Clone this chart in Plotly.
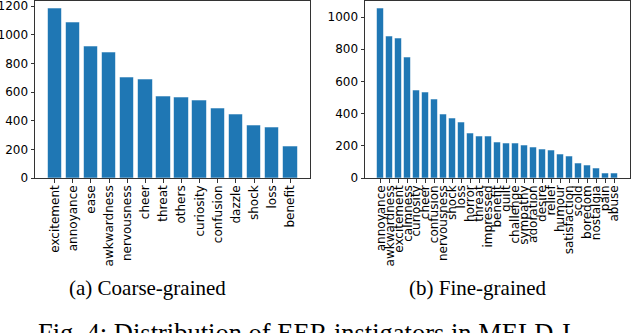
import plotly.graph_objects as go

# coarse-grained instigators
coarse_labels = ['excitement', 'annoyance', 'ease', 'awkwardness', 'nervousness', 'cheer',
                 'threat', 'others', 'curiosity', 'confusion', 'dazzle', 'shock', 'loss', 'benefit']
coarse_counts = [1180, 1084, 921, 877, 703, 686, 572, 563, 544, 484, 444, 368, 351, 218]

# fine-grained instigators
fine_labels = ['annoyance', 'awkwardness', 'excitement', 'calmness', 'curiosity', 'cheer',
               'confusion', 'nervousness', 'shock', 'loss', 'horror', 'threat', 'impressed',
               'benefit', 'guilt', 'challenge', 'sympathy', 'adoration', 'desire', 'relief',
               'humour', 'satisfaction', 'scold', 'boredom', 'nostalgia', 'pain', 'abuse']
fine_counts = [1050, 877, 865, 751, 544, 531, 485, 394, 370, 347, 276, 259, 255,
               218, 212, 212, 205, 187, 174, 168, 149, 131, 90, 75, 60, 31, 27]

coarse_ticks = [0, 200, 400, 600, 800, 1000, 1200]
fine_ticks = [0, 200, 400, 600, 800, 1000]

W, H = 640, 333
BLUE = '#1f77b4'
tick_font = dict(family='DejaVu Sans', size=12, color='black')


def px_x(v):
    return v / W


def px_y(v):
    return 1 - v / H


fig = go.Figure()

fig.add_trace(go.Bar(
    x=list(range(len(coarse_labels))), y=coarse_counts, width=0.8,
    marker=dict(color=BLUE, line=dict(color='rgba(255,255,255,0.55)', width=1)),
    xaxis='x', yaxis='y', showlegend=False
))
fig.add_trace(go.Bar(
    x=list(range(len(fine_labels))), y=fine_counts, width=0.8,
    marker=dict(color=BLUE, line=dict(color='rgba(255,255,255,0.55)', width=1)),
    xaxis='x2', yaxis='y2', showlegend=False
))


def axis_common():
    return dict(showline=True, mirror=True, linecolor='#333', linewidth=1,
                ticks='outside', ticklen=3.5, tickcolor='#333', tickwidth=1,
                showgrid=False, zeroline=False, tickfont=tick_font,
                ticklabeloverflow='allow')


def span(n):
    # matplotlib style 5% margins around the bars
    m = (n - 1 + 0.8) * 0.05
    return [-0.4 - m, n - 1 + 0.4 + m]


fig.update_layout(
    width=W, height=H,
    margin=dict(l=0, r=0, t=0, b=0, autoexpand=False),
    plot_bgcolor='white', paper_bgcolor='white',
    bargap=0,
    xaxis=dict(axis_common(), domain=[px_x(35), px_x(310)], anchor='y',
               range=span(len(coarse_labels)), tickmode='array',
               tickvals=list(range(len(coarse_labels))), ticktext=coarse_labels,
               tickangle=-90, ticklabelstandoff=-2),
    yaxis=dict(axis_common(), domain=[px_y(178), px_y(0.5)], anchor='x',
               range=[0, max(coarse_counts) * 1.05], tickmode='array',
               tickvals=coarse_ticks),
    xaxis2=dict(axis_common(), domain=[px_x(365), px_x(630)], anchor='y2',
                range=span(len(fine_labels)), tickmode='array',
                tickvals=list(range(len(fine_labels))), ticktext=fine_labels,
                tickangle=-90, ticklabelstandoff=-2),
    yaxis2=dict(axis_common(), domain=[px_y(178), px_y(0.5)], anchor='x2',
                range=[0, max(fine_counts) * 1.05], tickmode='array',
                tickvals=fine_ticks),
)

cap_font = dict(family='Liberation Serif', size=21, color='black')
fig.add_annotation(text='(a) Coarse-grained', x=px_x(67), y=px_y(288),
                   xref='paper', yref='paper', showarrow=False, font=cap_font,
                   xanchor='left', yanchor='middle')
fig.add_annotation(text='(b) Fine-grained', x=px_x(407), y=px_y(288),
                   xref='paper', yref='paper', showarrow=False, font=cap_font,
                   xanchor='left', yanchor='middle')
fig.add_annotation(text='Fig. 4: Distribution of EER instigators in MELD-I',
                   x=px_x(36), y=px_y(316), xref='paper', yref='paper',
                   showarrow=False, xanchor='left', yanchor='top',
                   font=dict(family='Liberation Serif', size=26.5, color='black'))

# drop the default 8px body margin so the figure sits flush in the window
fig.write_html('out.html', config={'displayModeBar': False},
               post_script="document.body.style.margin='0';")
